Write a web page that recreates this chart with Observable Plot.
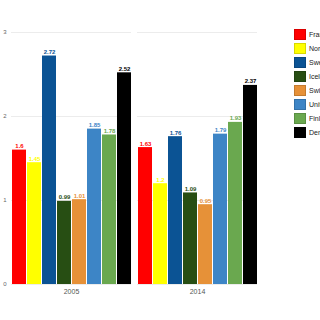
<!DOCTYPE html>
<html>
<head>
<meta charset="utf-8">
<script src="https://cdn.jsdelivr.net/npm/d3@7"></script>
<script src="https://cdn.jsdelivr.net/npm/@observablehq/plot@0.6"></script>
<style>
  html, body { margin: 0; padding: 0; background: #fff; }
  #wrap { position: relative; width: 320px; height: 320px; overflow: hidden; font-family: "Liberation Sans", Arial, sans-serif; }
  #legend { position: absolute; left: 294px; top: 27px; }
  .item { display: flex; align-items: center; height: 14px; white-space: nowrap; }
  .sw { width: 12px; height: 11px; box-sizing: border-box; border: 1px solid rgba(0,0,0,0.15); margin-right: 3px; flex: none; }
  .lab { font-size: 7px; color: #222; }
</style>
</head>
<body>
<div id="wrap"><div id="chart"></div><div id="legend"></div></div>
<script>
const years = ["2005", "2014"];
const countries = ["France", "Norway", "Sweden", "Iceland", "Switzerland", "United Kingdom", "Finland", "Denmark"];
const colors = ["#ff0000", "#ffff00", "#0b5394", "#274e13", "#e69138", "#3d85c6", "#6aa84f", "#000000"];
const values2005 = [1.6, 1.45, 2.72, 0.99, 1.01, 1.85, 1.78, 2.52];
const values2014 = [1.63, 1.2, 1.76, 1.09, 0.95, 1.79, 1.93, 2.37];
const yTicks = [0, 1, 2, 3];

const series = {"2005": values2005, "2014": values2014};
const data = years.flatMap(y => countries.map((c, i) => ({year: y, country: c, value: series[y][i]})));

const chart = Plot.plot({
  width: 320,
  height: 320,
  marginLeft: 10,
  marginRight: 62,
  marginTop: 32,
  marginBottom: 36,
  style: {fontFamily: "'Liberation Sans', Arial, sans-serif", background: "#fff"},
  fx: {domain: years, paddingInner: 0.047, paddingOuter: 0, label: null},
  x: {domain: countries, paddingInner: 0.09, paddingOuter: 0, axis: null},
  y: {domain: [0, 3], ticks: yTicks, label: null},
  color: {domain: countries, range: colors},
  marks: [
    Plot.gridY(yTicks, {stroke: "#ececec", strokeOpacity: 1}),
    Plot.axisY(yTicks, {tickSize: 0, tickPadding: 5, fontSize: 6, fill: "#666", tickFormat: d => String(d)}),
    Plot.axisFx({anchor: "bottom", tickSize: 0, tickPadding: 5, fontSize: 7, fill: "#555", label: null}),
    Plot.barY(data, {fx: "year", x: "country", y: "value", fill: "country"}),
    Plot.text(data, {fx: "year", x: "country", y: "value", text: d => String(d.value), fill: "country", dy: -4, fontSize: 6, fontWeight: "bold"})
  ]
});
document.getElementById("chart").appendChild(chart);

const legend = document.getElementById("legend");
countries.forEach((c, i) => {
  const row = document.createElement("div");
  row.className = "item";
  row.innerHTML = `<span class="sw" style="background:${colors[i]}"></span><span class="lab">${c}</span>`;
  legend.appendChild(row);
});
</script>
</body>
</html>
